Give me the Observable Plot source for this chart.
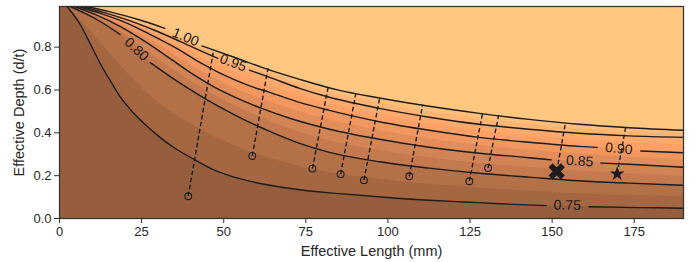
<!DOCTYPE html>
<html><head><meta charset="utf-8">
<script src="https://cdn.jsdelivr.net/npm/d3@7"></script>
<script src="https://cdn.jsdelivr.net/npm/@observablehq/plot@0.6"></script>
<style>body{margin:0;background:#fff;}</style>
</head><body><div id="chart"></div>
<script>
// axis limits, ticks and titles
const xLimit = [0, 190];
const yLimit = [0, 0.99];
const xTicks = [0, 25, 50, 75, 100, 125, 150, 175];
const yTicks = [0, 0.2, 0.4, 0.6, 0.8];
const xTitle = "Effective Length (mm)";
const yTitle = "Effective Depth (d/t)";

// labelled contour lines: [effective length, effective depth]; null = break for the label
const line075 = [[2.3,0.99],[6.3,0.906],[9.3,0.818],[12.4,0.724],[15.4,0.645],[18.4,0.570],[22.1,0.500],[26.0,0.440],[30.6,0.379],[35.15,0.328],[40.9,0.277],[47.3,0.225],[54.9,0.186],[64.0,0.155],[73.1,0.134],[85.3,0.116],[98.9,0.099],[112.6,0.085],[124.8,0.076],[133.9,0.069],[148.2,0.060],null,[161.2,0.055],[176.4,0.051],[190,0.048]];
const line080 = [[3.25,0.99],[7.8,0.958],[12.4,0.920],[18.4,0.860],null,[27.55,0.729],[33.6,0.664],[39.7,0.603],[45.2,0.552],[51.85,0.496],[57.9,0.449],[64.0,0.407],[73.1,0.351],[82.2,0.309],[97.4,0.265],[112.6,0.235],[127.8,0.211],[143.0,0.193],[158.2,0.176],[173.4,0.165],[190,0.155]];
const line085 = [[4.5,0.99],[10.8,0.953],[18.4,0.897],[26.0,0.827],[33.6,0.748],[41.2,0.668],[47.3,0.612],[54.9,0.556],[61.6,0.514],[70.1,0.468],[82.2,0.417],[97.4,0.370],[112.6,0.333],[127.8,0.305],[143.0,0.284],[149.7,0.274],null,[164.85,0.259],[173.4,0.253],[190,0.239]];
const line090 = [[5.7,0.99],[12.4,0.958],[20.0,0.916],[27.55,0.860],[35.15,0.799],[42.74,0.729],[50.33,0.668],[57.93,0.619],[64.0,0.589],[73.1,0.542],[82.2,0.505],[97.4,0.452],[112.6,0.412],[127.8,0.379],[143.0,0.356],[158.2,0.337],[163.7,0.332],null,[177.0,0.315],[190,0.307]];
const line095 = [[6.9,0.99],[13.9,0.960],[21.5,0.923],[29.1,0.878],[36.7,0.827],[42.7,0.785],[48.2,0.748],null,[57.9,0.692],[64.0,0.659],[73.1,0.608],[82.2,0.566],[97.4,0.514],[112.6,0.473],[127.8,0.440],[143.0,0.417],[158.2,0.398],[173.4,0.386],[190,0.379]];
const line100 = [[8.1,0.99],[15.4,0.965],[24.5,0.927],[32.1,0.888],null,[43.35,0.806],[53.4,0.752],[61.6,0.706],[73.1,0.650],[85.3,0.598],[97.4,0.563],[112.6,0.524],[127.8,0.491],[143.0,0.463],[158.2,0.440],[173.4,0.424],[190,0.412]];

// unlabelled fill boundaries between the drawn lines
const edge0775 = [[2.8,0.99],[12.4,0.822],[20.0,0.691],[27.55,0.574],[35.15,0.488],[42.74,0.417],[50.33,0.359],[57.93,0.312],[64.0,0.281],[73.1,0.243],[82.2,0.215],[97.4,0.183],[112.6,0.160],[127.8,0.143],[143.0,0.128],[158.2,0.116],[173.4,0.108],[190,0.102]];
const edge0825 = [[3.9,0.99],[12.4,0.931],[20.0,0.860],[27.55,0.770],[35.15,0.690],[42.74,0.615],[50.33,0.549],[57.93,0.494],[64.0,0.454],[73.1,0.403],[82.2,0.363],[97.4,0.317],[112.6,0.284],[127.8,0.258],[143.0,0.238],[158.2,0.222],[173.4,0.209],[190,0.197]];
const edge0875 = [[5.1,0.99],[12.4,0.950],[20.0,0.899],[27.55,0.835],[35.15,0.763],[42.74,0.692],[50.33,0.629],[57.93,0.578],[64.0,0.545],[73.1,0.499],[82.2,0.461],[97.4,0.411],[112.6,0.372],[127.8,0.342],[143.0,0.320],[158.2,0.302],[173.4,0.287],[190,0.274]];
const edge0925 = [[6.3,0.99],[12.4,0.959],[20.0,0.923],[27.55,0.874],[35.15,0.816],[42.74,0.757],[50.33,0.702],[57.93,0.656],[64.0,0.624],[73.1,0.575],[82.2,0.535],[97.4,0.483],[112.6,0.442],[127.8,0.410],[143.0,0.386],[158.2,0.368],[173.4,0.354],[190,0.344]];
const edge0975 = [[7.5,0.99],[12.4,0.969],[20.0,0.938],[27.55,0.899],[35.15,0.853],[42.74,0.801],[50.33,0.752],[57.93,0.709],[64.0,0.676],[73.1,0.629],[82.2,0.589],[97.4,0.539],[112.6,0.498],[127.8,0.466],[143.0,0.440],[158.2,0.419],[173.4,0.405],[190,0.396]];

// contour labels
const labelText = ["0.75", "0.80", "0.85", "0.90", "0.95", "1.00"];
const labelX = [154.6, 23.45, 158.4, 170.3, 52.86, 38.4];
const labelY = [0.062, 0.790, 0.268, 0.326, 0.727, 0.847];
const labelAngle = [1.3, 43, 3.6, 5.5, 20.6, 23];

// measured points and their projections (dashed) onto the 1.00 contour
const pointL = [39.2, 58.7, 77.0, 85.6, 92.7, 106.5, 124.8, 130.5, 151.4, 169.8];
const pointD = [0.104, 0.292, 0.233, 0.207, 0.179, 0.197, 0.174, 0.236, 0.220, 0.2085];
const topL = [46.8, 63.5, 81.9, 90.3, 97.5, 110.6, 128.8, 133.7, 154.1, 172.4];
const topD = [0.775, 0.702, 0.621, 0.589, 0.564, 0.532, 0.490, 0.482, 0.450, 0.427];
const pointKind = ["o","o","o","o","o","o","o","o","X","*"];

// styles
const bandColors = ["#965e3c","#a56742","#b47148","#c47a4e","#d38454","#e38e5a","#f29760","#ffa166","#ffaa6c","#ffb473","#ffbe79","#ffc77f"];
const ink = "#1c1c1c";

const bandEdges = [line075, edge0775, line080, edge0825, line085, edge0875, line090, edge0925, line095, edge0975, line100];
const contourLines = [line075, line080, line085, line090, line095, line100];

const filledX = {draw(ctx, size) {
  const k = Math.sqrt(size / Math.PI) / 2;
  const v = [[-1,-2],[0,-1],[1,-2],[2,-1],[1,0],[2,1],[1,2],[0,1],[-1,2],[-2,1],[-1,0],[-2,-1]];
  ctx.moveTo(v[0][0]*k, v[0][1]*k);
  for (let i = 1; i < v.length; i++) ctx.lineTo(v[i][0]*k, v[i][1]*k);
  ctx.closePath();
}};
const star5 = {draw(ctx, size) {
  const R = Math.sqrt(size / Math.PI), r = R * 0.381966;
  for (let i = 0; i < 10; i++) {
    const a = -Math.PI/2 + i * Math.PI/5, rr = i % 2 ? r : R;
    const px = rr*Math.cos(a), py = rr*Math.sin(a);
    i ? ctx.lineTo(px, py) : ctx.moveTo(px, py);
  }
  ctx.closePath();
}};

const pts = pointL.map((l, i) => ({l, d: pointD[i], tl: topL[i], td: topD[i], k: pointKind[i]}));
const labels = labelText.map((t, i) => ({t, x: labelX[i], y: labelY[i], a: labelAngle[i]}));

const marks = [
  Plot.frame({fill: bandColors[0], stroke: null}),
  ...bandEdges.map((edge, i) => Plot.areaY(edge.filter(Boolean), {
    x: d => d[0], y1: d => d[1], y2: () => yLimit[1], fill: bandColors[i + 1], curve: "monotone-x"})),
  ...contourLines.map(line => Plot.line(line.map(p => p ?? [NaN, NaN]), {
    x: d => d[0], y: d => d[1], stroke: ink, strokeWidth: 1.4, curve: "monotone-x"})),
  Plot.link(pts, {x1: "l", y1: "d", x2: "tl", y2: "td", stroke: ink, strokeWidth: 1.4, strokeDasharray: "4.5,2.6"}),
  Plot.dot(pts.filter(p => p.k === "o"), {x: "l", y: "d", r: 3.4, stroke: ink, strokeWidth: 1.1, fill: "none"}),
  Plot.dot(pts.filter(p => p.k === "X"), {x: "l", y: "d", r: 8.2, symbol: filledX, fill: ink, stroke: "none"}),
  Plot.dot(pts.filter(p => p.k === "*"), {x: "l", y: "d", r: 7.8, symbol: star5, fill: ink, stroke: "none"}),
  ...labels.map(lb => Plot.text([lb], {x: "x", y: "y", text: "t", rotate: lb.a, fontSize: 14, fill: ink})),
  Plot.frame({stroke: "#333", strokeWidth: 1.25}),
  Plot.axisX({ticks: xTicks, tickSize: 5, tickPadding: 3, fontSize: 13, stroke: "#333", fill: "#262626", label: null}),
  Plot.axisY({ticks: yTicks, tickFormat: d3.format(".1f"), tickSize: 5, tickPadding: 3, fontSize: 13, stroke: "#333", fill: "#262626", label: null}),
  Plot.text([xTitle], {frameAnchor: "bottom", dy: 37, fontSize: 14.5, fill: "#262626"}),
  Plot.text([yTitle], {frameAnchor: "left", dx: -40, rotate: -90, textAnchor: "middle", lineAnchor: "middle", fontSize: 14.5, fill: "#262626"})
];

const chart = Plot.plot({
  width: 697, height: 262,
  marginTop: 6, marginBottom: 44, marginLeft: 59, marginRight: 14,
  x: {domain: xLimit},
  y: {domain: yLimit},
  style: {fontFamily: "'Liberation Sans', Arial, sans-serif", fontSize: "13px", color: "#262626", background: "#fff"},
  marks
});
document.getElementById("chart").appendChild(chart);
</script>
</body></html>
